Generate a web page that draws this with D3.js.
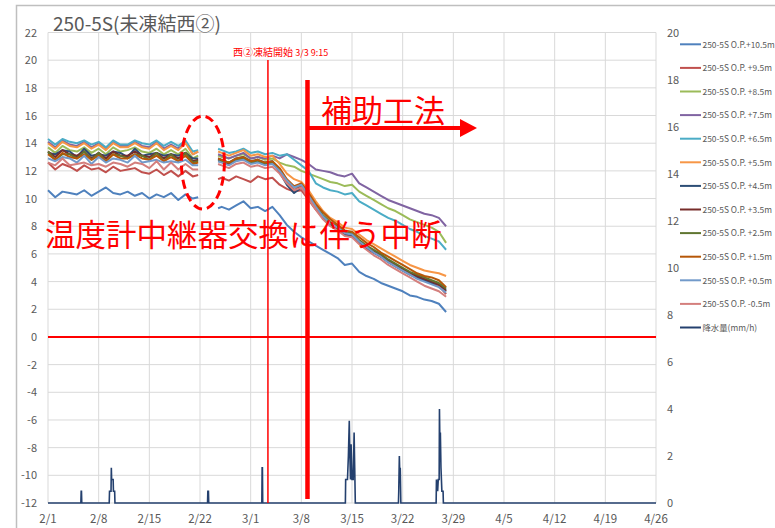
<!DOCTYPE html>
<html>
<head>
<meta charset="utf-8">
<script src="https://cdn.jsdelivr.net/npm/d3@7"></script>
<style>
  body { margin: 0; background: #fff; overflow: hidden; }
  text { font-family: "Noto Sans CJK JP", "Noto Sans", sans-serif; }
</style>
</head>
<body>
<div id="chart"></div>
<script>
// days counted from 2/1 (2021), gap = sensor relay replacement
const days = [0,1,2,3,4,5,6,7,8,9,10,11,12,13,14,15,16,17,18,19,20,20.75,22,23.5,
  24,25,26,27,28,29,30,31,32,33,34,35,
  36,37,38,39,40,41,42,43,44,45,46,47,48,49,50,51,52,53,54,55];

const s105 = [10.6,10.1,10.5,10.4,10.3,10.6,10.2,10.5,10.8,10.4,10.3,10.5,10.2,10.4,10.0,10.3,10.1,10.4,9.9,10.3,10.0,10.1,null,9.3,
  9.4,9.2,9.5,9.8,9.3,9.4,9.1,9.4,8.8,8.1,7.6,7.2,
  6.9,6.6,6.3,6.0,5.7,5.2,5.3,4.7,4.4,4.2,3.9,3.7,3.5,3.3,3.0,2.9,2.7,2.6,2.4,1.8];
const s95 = [12.6,12.1,12.5,12.3,12.0,12.4,12.1,12.2,11.9,12.3,12.0,12.1,12.2,11.9,11.8,12.1,11.7,12.0,11.6,12.0,11.6,11.7,null,11.4,
  11.5,11.3,11.6,11.4,11.2,11.6,11.4,11.5,11.0,10.7,10.5,10.6,
  9.9,9.2,8.6,8.1,7.8,7.4,7.3,6.8,6.4,6.1,5.8,5.5,5.2,4.9,4.6,4.4,4.1,3.9,3.7,3.1];
const s85 = [13.7,13.3,13.8,13.5,13.4,13.7,13.3,13.6,13.2,13.7,13.4,13.5,13.7,13.4,13.3,13.6,13.2,13.5,13.2,13.6,12.9,13.1,null,13.1,
  13.0,12.9,13.1,13.2,12.9,13.0,12.8,12.9,12.6,12.4,12.3,12.0,
  11.8,11.6,11.4,11.2,11.1,10.9,11.0,10.5,10.2,9.9,9.6,9.3,9.1,8.8,8.5,8.3,8.1,7.9,7.6,6.8];
const s75 = [14.1,13.7,14.2,13.9,13.8,14.1,13.7,14.0,13.6,14.1,13.8,13.8,14.1,13.8,13.7,14.1,13.6,13.9,13.6,14.1,13.2,13.4,null,13.2,
  13.1,12.9,13.1,13.3,12.9,13.0,12.9,13.1,12.9,13.2,13.0,12.8,
  12.5,12.1,12.0,11.9,11.7,11.6,11.8,11.1,10.8,10.5,10.2,9.9,9.7,9.5,9.3,9.1,8.9,8.8,8.6,8.0];
const s65 = [14.3,13.9,14.3,14.1,14.0,14.2,13.9,14.1,13.7,14.2,13.9,13.9,14.2,14.0,13.9,14.2,13.8,14.1,13.8,14.2,13.4,13.5,null,13.6,
  13.5,13.3,13.4,13.6,13.3,13.4,13.2,13.3,13.1,13.2,12.8,12.4,
  12.0,11.1,10.8,10.6,10.5,10.3,10.4,9.8,9.5,9.2,8.9,8.6,8.4,8.1,7.8,7.6,7.3,7.1,6.9,6.3];
const s55 = [14.0,13.6,14.1,13.8,13.7,14.0,13.6,13.9,13.5,14.0,13.7,13.7,14.0,13.7,13.6,14.0,13.5,13.8,13.5,14.0,13.2,13.4,null,13.4,
  13.3,13.1,13.3,13.5,13.1,13.2,13.0,13.1,12.5,11.8,11.4,11.2,
  10.6,9.8,9.1,8.6,8.3,7.9,7.8,7.4,7.0,6.7,6.4,6.1,5.8,5.5,5.2,5.0,4.8,4.7,4.6,4.4];
const s45 = [13.3,13.2,13.5,13.4,13.0,13.6,13.1,13.2,13.1,13.4,13.3,13.0,13.6,13.1,13.2,13.3,13.1,13.2,13.1,13.3,12.9,12.9,null,12.9,
  12.8,12.6,12.9,13.0,12.7,12.8,12.6,12.7,11.9,11.0,10.4,10.8,
  10.1,9.3,8.6,8.1,7.8,7.4,7.3,6.8,6.4,6.1,5.8,5.4,5.1,4.8,4.5,4.3,4.1,3.9,3.8,3.4];
const s35 = [13.4,13.0,13.5,13.2,13.1,13.4,12.9,13.3,12.9,13.4,13.1,13.1,13.4,13.1,13.0,13.3,12.9,13.2,12.9,13.3,12.7,12.8,null,12.8,
  12.7,12.5,12.8,12.9,12.6,12.7,12.5,12.6,12.0,11.2,10.6,10.9,
  10.2,9.4,8.7,8.2,7.9,7.5,7.4,6.9,6.5,6.2,5.9,5.5,5.2,4.9,4.6,4.4,4.2,4.0,3.8,3.3];
const s25 = [13.4,12.8,13.2,13.2,12.9,13.4,12.8,13.3,12.7,13.2,13.1,12.9,13.2,13.1,12.8,13.3,12.7,13.2,12.7,13.3,12.6,12.7,null,12.7,
  12.7,12.6,12.8,12.9,12.6,12.7,12.5,12.6,12.1,11.3,10.8,11.0,
  10.3,9.5,8.8,8.3,8.0,7.6,7.5,7.0,6.6,6.3,6.0,5.6,5.3,5.0,4.7,4.5,4.3,4.1,3.9,3.5];
const s15 = [13.2,12.8,13.3,13.0,12.9,13.2,12.8,13.1,12.7,13.2,12.9,12.9,13.2,12.9,12.8,13.1,12.7,13.0,12.7,13.1,12.5,12.6,null,12.9,
  12.8,12.6,12.9,13.0,12.7,12.8,12.6,12.7,12.2,11.4,10.9,11.1,
  10.4,9.6,9.0,8.5,8.1,7.7,7.6,7.2,6.8,6.5,6.1,5.8,5.5,5.2,4.9,4.6,4.4,4.3,4.1,3.6];
const s05 = [12.9,12.7,13.0,12.9,12.6,13.1,12.5,13.0,12.6,12.9,12.8,12.6,13.1,12.6,12.7,12.8,12.6,12.7,12.6,12.8,12.4,12.4,null,12.7,
  12.6,12.4,12.7,12.8,12.5,12.6,12.4,12.5,12.0,11.3,10.8,11.0,
  10.2,9.4,8.7,8.2,7.9,7.5,7.4,6.9,6.5,6.1,5.8,5.4,5.1,4.8,4.5,4.2,4.0,3.8,3.6,3.2];
const sm05 = [12.6,12.4,12.9,12.4,12.5,12.6,12.4,12.5,12.3,12.6,12.5,12.3,12.6,12.5,12.2,12.7,12.1,12.6,12.1,12.5,12.1,12.1,null,12.5,
  12.4,12.2,12.5,12.6,12.3,12.4,12.2,12.3,11.8,11.1,10.6,10.8,
  10.0,9.2,8.5,8.0,7.7,7.3,7.2,6.7,6.3,5.9,5.6,5.2,4.9,4.6,4.3,4.0,3.7,3.5,3.3,2.9];

const seriesNames = ['250-5S O.P.+10.5m','250-5S O.P. +9.5m','250-5S O.P. +8.5m','250-5S O.P. +7.5m',
  '250-5S O.P. +6.5m','250-5S O.P. +5.5m','250-5S O.P. +4.5m','250-5S O.P. +3.5m',
  '250-5S O.P. +2.5m','250-5S O.P. +1.5m','250-5S O.P. +0.5m','250-5S O.P. -0.5m'];
const seriesColors = ['#4F81BD','#C0504D','#9BBB59','#8064A2','#4BACC6','#F79646',
  '#2C4D75','#772C2A','#5F7530','#B65708','#729ACA','#D47F7D'];
const seriesValues = [s105, s95, s85, s75, s65, s55, s45, s35, s25, s15, s05, sm05];

// precipitation (mm/h), hours from 2/1 0:00
const rainHours = [0,109,110,111,112,203,204,209,210,211,216,217,221,222,529,530,532,533,
  709,710,711,712,986,987,993,996,999,1001,1003,1005,1008,1012,1015,1017,1019,
  1162,1163,1165,1167,1168,1170,1287,1288,1292,1294,1297,1298,1300,1301,1303,1306,1310,1311,2016];
const rainMm = [0,0,0.5,0.5,0,0,0.5,0.5,1.5,1.0,1.0,0.5,0.5,0,0,0.5,0.5,0,
  0,1.5,1.5,0,0,1.0,1.0,2.0,3.5,2.0,1.0,2.5,1.0,1.0,3.0,1.5,0,
  0,0.5,2.0,1.0,1.5,0,0,1.0,0.5,1.0,1.0,4.0,2.0,3.0,1.5,0.5,0.5,0,0];

const tickLabels = ['2/1','2/8','2/15','2/22','3/1','3/8','3/15','3/22','3/29','4/5','4/12','4/19','4/26'];
const leftTicks = [22,20,18,16,14,12,10,8,6,4,2,0,-2,-4,-6,-8,-10,-12];
const rightTicks = [20,18,16,14,12,10,8,6,4,2,0];

const year = 2021;
const start = new Date(year, 1, 1);
const dayToDate = (d) => new Date(start.getTime() + d * 864e5);
const labelToDate = (s) => { const [m, d] = s.split('/').map(Number); return new Date(year, m - 1, d); };

const width = 775, height = 528;
const margin = { top: 32.5, right: 119, bottom: 25, left: 48 };

const svg = d3.select('#chart').append('svg')
  .attr('width', width).attr('height', height);

svg.append('rect').attr('x', 16.5).attr('y', 5.5).attr('width', 800).attr('height', 560)
  .attr('fill', '#fff').attr('stroke', '#bfbfbf').attr('stroke-width', 1.5);

const xScale = d3.scaleTime()
  .domain([labelToDate(tickLabels[0]), labelToDate(tickLabels[tickLabels.length - 1])])
  .range([margin.left, width - margin.right]);
const yScale = d3.scaleLinear().domain([-12, 22]).range([height - margin.bottom, margin.top]);
const yRight = d3.scaleLinear().domain([0, 20]).range([height - margin.bottom, margin.top]);

// grid
svg.append('g').selectAll('line').data(leftTicks).enter().append('line')
  .attr('x1', margin.left).attr('x2', xScale.range()[1])
  .attr('y1', d => yScale(d)).attr('y2', d => yScale(d))
  .attr('stroke', '#d9d9d9').attr('stroke-width', 1);
svg.append('g').selectAll('line').data(tickLabels).enter().append('line')
  .attr('x1', d => xScale(labelToDate(d))).attr('x2', d => xScale(labelToDate(d)))
  .attr('y1', yScale(22)).attr('y2', yScale(-12))
  .attr('stroke', '#d9d9d9').attr('stroke-width', 1);

// axes labels
svg.append('g').selectAll('text').data(leftTicks).enter().append('text')
  .attr('x', 37).attr('y', d => yScale(d) + 4)
  .attr('text-anchor', 'end').attr('font-size', 11).attr('fill', '#595959')
  .text(d => d);
svg.append('g').selectAll('text').data(rightTicks).enter().append('text')
  .attr('x', 667).attr('y', d => yRight(d) + 4)
  .attr('font-size', 11).attr('fill', '#595959')
  .text(d => d);
svg.append('g').selectAll('text').data(tickLabels).enter().append('text')
  .attr('x', d => xScale(labelToDate(d))).attr('y', 523)
  .attr('text-anchor', 'middle').attr('font-size', 11.5).attr('fill', '#595959')
  .text(d => d);

// zero line
svg.append('line')
  .attr('x1', xScale.range()[0]).attr('x2', xScale.range()[1])
  .attr('y1', yScale(0)).attr('y2', yScale(0))
  .attr('stroke', '#ff0000').attr('stroke-width', 2);

// temperature lines
const line = d3.line()
  .defined(d => d.v !== null)
  .x(d => xScale(dayToDate(d.t)))
  .y(d => yScale(d.v));

svg.append('g').selectAll('path')
  .data(seriesValues)
  .enter()
  .append('path')
  .attr('d', (vals) => line(vals.map((v, i) => ({ t: days[i], v: v }))))
  .attr('fill', 'none')
  .attr('stroke', (d, i) => seriesColors[i])
  .attr('stroke-width', 2)
  .attr('stroke-linejoin', 'round');

// precipitation (right axis)
const rainLine = d3.line()
  .x((d, i) => xScale(new Date(start.getTime() + rainHours[i] * 36e5)))
  .y(d => yRight(d));
svg.append('path')
  .attr('d', rainLine(rainMm))
  .attr('fill', 'none').attr('stroke', '#24406E').attr('stroke-width', 1.6);

// title
svg.append('text').attr('x', 53).attr('y', 31)
  .attr('font-size', 19).attr('fill', '#595959')
  .text('250-5S(未凍結西②)');

// annotations
const red = '#ff0000';
const freezeStart = dayToDate(30 + 9.25 / 24);
svg.append('line')
  .attr('x1', xScale(freezeStart)).attr('x2', xScale(freezeStart))
  .attr('y1', 60).attr('y2', yScale(-12))
  .attr('stroke', red).attr('stroke-width', 1.5);
const fl = svg.append('text').attr('x', 233).attr('y', 56).attr('fill', red);
fl.append('tspan').attr('font-size', 10).text('西②凍結開始 ');
fl.append('tspan').attr('font-size', 9).text('3/3 9:15');

const aux = dayToDate(35.85);
svg.append('line')
  .attr('x1', xScale(aux)).attr('x2', xScale(aux))
  .attr('y1', 80).attr('y2', 499)
  .attr('stroke', red).attr('stroke-width', 4.5);
svg.append('line')
  .attr('x1', xScale(aux)).attr('x2', 462)
  .attr('y1', yScale(15.1)).attr('y2', yScale(15.1))
  .attr('stroke', red).attr('stroke-width', 4);
svg.append('path')
  .attr('d', `M460,${yScale(15.1) - 9}L477,${yScale(15.1)}L460,${yScale(15.1) + 9}Z`)
  .attr('fill', red);
svg.append('text').attr('x', 321).attr('y', 122)
  .attr('font-size', 31).attr('fill', red).text('補助工法');

svg.append('ellipse')
  .attr('cx', xScale(dayToDate(21.4))).attr('cy', yScale(12.6))
  .attr('rx', 21.5).attr('ry', 46.5)
  .attr('fill', 'none').attr('stroke', red).attr('stroke-width', 3)
  .attr('stroke-dasharray', '9,5');

svg.append('text').attr('x', 45).attr('y', 246)
  .attr('font-size', 30.5).attr('fill', red)
  .text('温度計中継器交換に伴う中断');

// legend
const legendNames = seriesNames.concat(['降水量(mm/h)']);
const legendColors = seriesColors.concat(['#24406E']);
const legend = svg.append('g').selectAll('g').data(legendNames).enter().append('g')
  .attr('transform', (d, i) => `translate(680,${44.3 + i * 23.6})`);
legend.append('line').attr('x1', 0).attr('x2', 21)
  .attr('stroke', (d, i) => legendColors[i]).attr('stroke-width', 2);
legend.append('text').attr('x', 22.5).attr('y', 3.2)
  .attr('font-size', 8.4).attr('fill', '#595959')
  .text(d => d);
</script>
</body>
</html>
